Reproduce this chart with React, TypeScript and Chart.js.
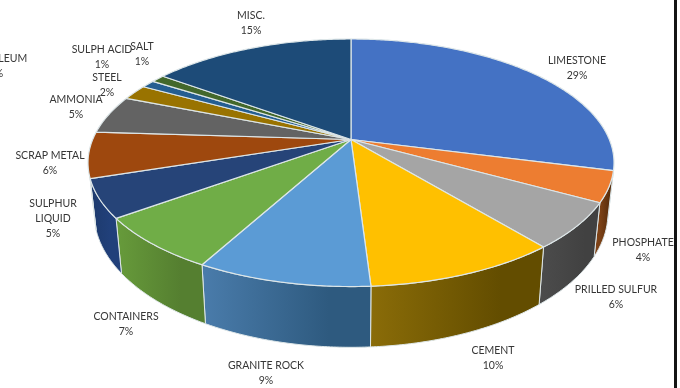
import React, { useEffect, useRef } from "react";
import { Chart, registerables } from "chart.js";

Chart.register(...registerables);

// Cargo tonnage shares, clockwise from twelve o'clock.
const categories = [
  "LIMESTONE", "PHOSPHATE", "PRILLED SULFUR", "CEMENT", "GRANITE ROCK", "CONTAINERS",
  "SULPHUR LIQUID", "SCRAP METAL", "AMMONIA", "STEEL", "SULPH ACID", "SALT", "MISC.", "PETROLEUM",
];
const shares = [29, 4, 6, 10, 9, 7, 5, 6, 5, 2, 1, 1, 15, 0];
const faceColors = [
  "#4472C4", "#ED7D31", "#A5A5A5", "#FFC000", "#5B9BD5", "#70AD47",
  "#264478", "#9E480E", "#636363", "#997300", "#255E91", "#43682B", "#1D4B78", "#7E9EC9",
];
const wallColors = [
  ["#2f4f88", "#2f4f88"], ["#7d4217", "#582d0c"], ["#4b4b4b", "#414141"], ["#8a6c08", "#634d00"],
  ["#4a7cab", "#2e5a7f"], ["#679b3b", "#557f30"], ["#1d3a6c", "#21407a"], ["#6e320a", "#6e320a"],
  ["#444444", "#444444"], ["#6b5000", "#6b5000"], ["#1a4166", "#1a4166"], ["#2f481e", "#2f481e"],
  ["#143555", "#143555"], ["#586f8c", "#586f8c"],
];

// Label layout: centre x and first-line centre y for each category.
const labelSpots = [
  [577, 61], [643, 243], [616, 290], [493, 351], [266, 366], [126, 317],
  [53, 204], [50, 156], [76, 100], [107, 78], [102, 50], [142, 47], [251, 16], [-4, 59],
];
const labelLines: Record<string, string[]> = { "SULPHUR LIQUID": ["SULPHUR", "LIQUID"] };

// Perspective of the tilted disc.
const APEX_X = 351;
const APEX_Y = 139.5;
const SPREAD_X = 258.3;
const SPREAD_Y = 119.4;
const TILT = 0.188;
const BASE_SCALE_X = 0.977;
const BASE_SCALE_Y = 1.084;
const BASE_SHIFT_Y = 36.7;
const WALL_FROM = (14 * Math.PI) / 180;
const WALL_TO = (162.5 * Math.PI) / 180;
const RIM = "#dde6e8";

function topPoint(a: number): [number, number] {
  const u = Math.cos(a);
  const v = Math.sin(a);
  const w = 1 - TILT * v;
  return [APEX_X + (SPREAD_X * u) / w, APEX_Y + (SPREAD_Y * v) / w];
}

function basePoint(a: number): [number, number] {
  const [x, y] = topPoint(a);
  return [APEX_X + (x - APEX_X) * BASE_SCALE_X, BASE_SHIFT_Y + BASE_SCALE_Y * y];
}

function arcSamples(from: number, to: number): number[] {
  const steps = Math.max(2, Math.ceil((to - from) / 0.01));
  const out: number[] = [];
  for (let i = 0; i <= steps; i++) out.push(from + ((to - from) * i) / steps);
  return out;
}

// Draws the pie's arc elements as a tilted disc with a front wall.
const tiltedDisc = {
  id: "tiltedDisc",
  beforeDatasetDraw(chart: Chart) {
    const { ctx } = chart;
    const arcs = chart.getDatasetMeta(0).data as any[];

    ctx.save();
    ctx.lineJoin = "round";

    arcs.forEach((arc, i) => {
      const from = Math.max(arc.startAngle, WALL_FROM);
      const to = Math.min(arc.endAngle, WALL_TO);
      if (to <= from) return;
      const samples = arcSamples(from, to);
      const left = topPoint(to)[0];
      const right = topPoint(from)[0];
      const fill = ctx.createLinearGradient(left, 0, right, 0);
      fill.addColorStop(0, wallColors[i][0]);
      fill.addColorStop(0.75, wallColors[i][1]);
      ctx.beginPath();
      samples.forEach((a, k) => {
        const [x, y] = topPoint(a);
        if (k === 0) ctx.moveTo(x, y);
        else ctx.lineTo(x, y);
      });
      [...samples].reverse().forEach((a) => {
        const [x, y] = basePoint(a);
        ctx.lineTo(x, y);
      });
      ctx.closePath();
      ctx.fillStyle = fill;
      ctx.fill();
      ctx.strokeStyle = RIM;
      ctx.lineWidth = 1;
      ctx.stroke();
    });

    arcs.forEach((arc, i) => {
      if (arc.endAngle - arc.startAngle <= 0) return;
      ctx.beginPath();
      ctx.moveTo(APEX_X, APEX_Y);
      arcSamples(arc.startAngle, arc.endAngle).forEach((a) => {
        const [x, y] = topPoint(a);
        ctx.lineTo(x, y);
      });
      ctx.closePath();
      ctx.fillStyle = faceColors[i];
      ctx.fill();
      ctx.strokeStyle = RIM;
      ctx.lineWidth = 1.2;
      ctx.stroke();
    });

    ctx.restore();
    return false;
  },
  afterDraw(chart: Chart) {
    const { ctx } = chart;
    ctx.save();
    ctx.font = '10.5px Lato, "Open Sans", sans-serif';
    ctx.fillStyle = "#363636";
    ctx.textAlign = "center";
    ctx.textBaseline = "middle";
    categories.forEach((name, i) => {
      const lines = [...(labelLines[name] ?? [name]), `${shares[i]}%`];
      const [x, y] = labelSpots[i];
      lines.forEach((line, k) => ctx.fillText(line, x, y + k * 15));
    });
    // Dark rule down the right-hand side of the frame.
    ctx.fillStyle = "#141414";
    ctx.fillRect(674, 0, 3, chart.height);
    ctx.restore();
  },
};

export default function App() {
  const canvasRef = useRef<HTMLCanvasElement>(null);

  useEffect(() => {
    document.body.style.margin = "0";
    const chart = new Chart(canvasRef.current!, {
      type: "pie",
      data: {
        labels: categories,
        datasets: [{ data: shares, backgroundColor: faceColors, borderWidth: 0 }],
      },
      options: {
        responsive: false,
        animation: false,
        plugins: { legend: { display: false }, tooltip: { enabled: false } },
      },
      plugins: [tiltedDisc],
    });
    return () => chart.destroy();
  }, []);

  return <canvas ref={canvasRef} width={680} height={388} style={{ display: "block", background: "#fff" }} />;
}
